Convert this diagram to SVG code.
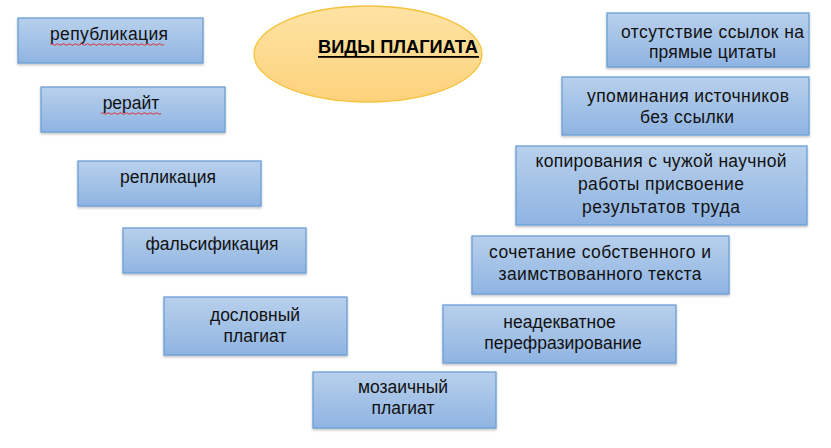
<svg xmlns="http://www.w3.org/2000/svg" width="831" height="448" viewBox="0 0 831 448">
<defs>
<linearGradient id="gBox" x1="0" y1="0" x2="0" y2="1">
<stop offset="0" stop-color="#b8d0ec"/>
<stop offset="1" stop-color="#8fb4e2"/>
</linearGradient>
<linearGradient id="gEll" x1="0" y1="0" x2="0" y2="1">
<stop offset="0" stop-color="#fee3a4"/>
<stop offset="1" stop-color="#fdd27c"/>
</linearGradient>
<filter id="sh" x="-10%" y="-10%" width="120%" height="130%">
<feDropShadow dx="0" dy="1.5" stdDeviation="1" flood-color="#000" flood-opacity="0.25"/>
</filter>
</defs>
<style>
.box{fill:url(#gBox);stroke:#6b9fd6;stroke-width:1.3;filter:url(#sh)}
.t{font-family:"Liberation Sans",Arial,sans-serif;font-size:17.5px;fill:#111;text-anchor:middle}
.title{font-family:"Liberation Sans",Arial,sans-serif;font-size:18px;font-weight:bold;fill:#000;text-anchor:middle}
.sq{fill:none;stroke:#e02020;stroke-width:0.9}
</style>
<g id="center">
<ellipse cx="368" cy="54" rx="114" ry="48" fill="url(#gEll)" stroke="#f4c23c" stroke-width="1.3"/>
<text class="title" x="398" y="53" textLength="160" lengthAdjust="spacingAndGlyphs">ВИДЫ ПЛАГИАТА</text>
<rect x="318" y="56" width="161" height="1.8" fill="#000"/>
</g>
<g id="n1">
<rect class="box" x="18" y="18" width="185" height="45"/>
<text class="t" x="109" y="40" textLength="118" lengthAdjust="spacing">републикация</text>
<path class="sq" d="M50 44.5 q1.5 -1.5 3 0 t3 0 t3 0 t3 0 t3 0 t3 0 t3 0 t3 0 t3 0 t3 0 t3 0 t3 0 t3 0 t3 0 t3 0 t3 0 t3 0 t3 0 t3 0 t3 0 t3 0 t3 0 t3 0 t3 0 t3 0 t3 0 t3 0 t3 0 t3 0 t3 0 t3 0 t3 0 t3 0 t3 0 t3 0 t3 0 t3 0 t3 0"/>
</g>
<g id="n2">
<rect class="box" x="41" y="87" width="184" height="45"/>
<text class="t" x="131" y="109">рерайт</text>
<path class="sq" d="M101 113.5 q1.5 -1.5 3 0 t3 0 t3 0 t3 0 t3 0 t3 0 t3 0 t3 0 t3 0 t3 0 t3 0 t3 0 t3 0 t3 0 t3 0 t3 0 t3 0 t3 0 t3 0 t3 0"/>
</g>
<g id="n3">
<rect class="box" x="78" y="161" width="183" height="45"/>
<text class="t" x="168" y="183">репликация</text>
</g>
<g id="n4">
<rect class="box" x="123" y="228" width="183" height="45"/>
<text class="t" x="212" y="250">фальсификация</text>
</g>
<g id="n5">
<rect class="box" x="164" y="297" width="183" height="58"/>
<text class="t" x="255" y="321">дословный</text>
<text class="t" x="255" y="342">плагиат</text>
</g>
<g id="n6">
<rect class="box" x="313" y="372" width="183" height="56"/>
<text class="t" x="403" y="393">мозаичный</text>
<text class="t" x="403" y="414">плагиат</text>
</g>
<g id="n7">
<rect class="box" x="443" y="305" width="233" height="58"/>
<text class="t" x="559.5" y="328">неадекватное</text>
<text class="t" x="563" y="349">перефразирование</text>
</g>
<g id="n8">
<rect class="box" x="472" y="236" width="257" height="58"/>
<text class="t" x="600" y="258" textLength="222" lengthAdjust="spacing">сочетание собственного и</text>
<text class="t" x="600" y="280" textLength="203" lengthAdjust="spacing">заимствованного текста</text>
</g>
<g id="n9">
<rect class="box" x="516" y="146" width="291" height="79"/>
<text class="t" x="661" y="167" textLength="251" lengthAdjust="spacing">копирования с чужой научной</text>
<text class="t" x="661" y="190" textLength="166" lengthAdjust="spacing">работы присвоение</text>
<text class="t" x="661" y="213" textLength="158" lengthAdjust="spacing">результатов труда</text>
</g>
<g id="n10">
<rect class="box" x="562" y="77" width="247" height="58"/>
<text class="t" x="688" y="102" textLength="202" lengthAdjust="spacing">упоминания источников</text>
<text class="t" x="687" y="123" textLength="94" lengthAdjust="spacing">без ссылки</text>
</g>
<g id="n11">
<rect class="box" x="607" y="13" width="202" height="54"/>
<text class="t" x="712.5" y="38" textLength="183" lengthAdjust="spacing">отсутствие ссылок на</text>
<text class="t" x="712.5" y="58" textLength="127" lengthAdjust="spacing">прямые цитаты</text>
</g>
<g id="connectors"/>
</svg>
